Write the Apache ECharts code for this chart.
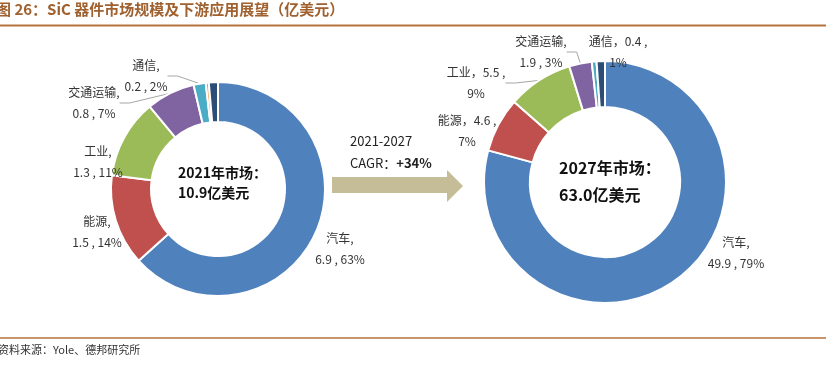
<!DOCTYPE html>
<html><head><meta charset="utf-8">
<script src="https://cdn.jsdelivr.net/npm/echarts/dist/echarts.min.js"></script>
<style>html,body{margin:0;padding:0;background:#fff}#c{width:826px;height:369px}</style>
</head><body><div id="c"></div>
<script>
// ---- data ----
const segments = ['汽车', '能源', '工业', '交通运输', '通信', '其他1', '其他2'];
const values2021 = [6.9, 1.5, 1.3, 0.8, 0.2, 0.05, 0.15];
const share2021 = ['63%', '14%', '11%', '7%', '2%', '', ''];
const values2027 = [49.9, 4.6, 5.5, 1.9, 0.4, 0, 0.7];
const share2027 = ['79%', '7%', '9%', '3%', '1%', '', ''];
const total2021 = '10.9';
const total2027 = '63.0';
const cagrPeriod = '2021-2027';
const cagrValue = '+34%';
const titleText = '图 26：SiC 器件市场规模及下游应用展望（亿美元）';
const sourceText = '资料来源：Yole、德邦研究所';

// ---- styles / layout ----
const colors = ['#4F81BD', '#C0504D', '#9BBB59', '#8064A2', '#4BACC6', '#F79646', '#2C4D75'];
const FONT = '"Noto Sans CJK SC", "Noto Sans", sans-serif';
const labelPos2021 = [[340, 249], [97, 232], [98, 162], [94, 103], [146, 76]];
const labelPos2027 = [[736, 253], [467, 131], [476, 83], [541, 52], [618, 52]];
const lines2021 = [false, false, false, true, true];
const lines2027 = [false, false, true, true, false];
// label line-break style for 2027: true => "name，value ,\nshare"
const inline2027 = [false, true, true, false, true];

function buildData(values, shares, lines, fmtInline) {
  return segments.map((name, i) => {
    const hasLabel = i < 5;
    let text = '';
    if (hasLabel) {
      text = (fmtInline && fmtInline[i])
        ? name + '，' + values[i] + ' ,\n' + shares[i]
        : name + ',\n' + values[i] + ' , ' + shares[i];
    }
    return {
      name: name,
      value: values[i],
      itemStyle: { color: colors[i] },
      label: { show: hasLabel, formatter: text },
      labelLine: { show: hasLabel && lines[i] }
    };
  });
}

function pieSeries(center, radius, data, pos) {
  return {
    type: 'pie',
    center: center,
    radius: radius,
    startAngle: 90,
    clockwise: true,
    avoidLabelOverlap: false,
    silent: true,
    animation: false,
    itemStyle: { borderColor: '#fff', borderWidth: 2 },
    label: {
      position: 'outside',
      fontFamily: FONT, fontSize: 12, color: '#333', lineHeight: 21, align: 'center'
    },
    labelLine: { lineStyle: { color: '#A6A6A6', width: 1 }, length: 10, length2: 10 },
    labelLayout: function (p) {
      const q = pos[p.dataIndex];
      if (!q) return {};
      return { x: q[0], y: q[1], align: 'center', verticalAlign: 'middle' };
    },
    data: data
  };
}

const chart = echarts.init(document.getElementById('c'), null, { renderer: 'canvas' });
chart.setOption({
  animation: false,
  backgroundColor: '#fff',
  series: [
    pieSeries([218, 189], [67, 107], buildData(values2021, share2021, lines2021, null), labelPos2021),
    pieSeries([605, 182], [75, 121], buildData(values2027, share2027, lines2027, inline2027), labelPos2027)
  ],
  graphic: [
    { type: 'text', left: -4, top: 2, style: { text: titleText, font: 'bold 15px ' + FONT, fill: '#A0612F' } },
    { type: 'line', shape: { x1: 0, y1: 25.5, x2: 826, y2: 25.5 }, style: { stroke: '#B5733E', lineWidth: 2 } },
    { type: 'line', shape: { x1: 0, y1: 338, x2: 826, y2: 338 }, style: { stroke: '#B5733E', lineWidth: 1.5 } },
    { type: 'text', left: -2, top: 344, style: { text: sourceText, font: '11px ' + FONT, fill: '#333' } },
    { type: 'polygon', shape: { points: [[332, 177], [447, 177], [447, 170], [463, 186], [447, 202], [447, 193], [332, 193]] }, style: { fill: '#C4BD97' } },
    { type: 'text', x: 350, y: 141, style: { text: cagrPeriod, font: '13px ' + FONT, fill: '#222', verticalAlign: 'middle' } },
    { type: 'text', x: 350, y: 163, style: { text: '{n|CAGR：}{b|' + cagrValue + '}', verticalAlign: 'middle',
        rich: { n: { font: '13px ' + FONT, fill: '#222' }, b: { font: 'bold 13px ' + FONT, fill: '#222' } } } },
    { type: 'text', x: 178, y: 183, style: { text: '2021年市场：\n' + total2021 + '亿美元', font: 'bold 14px ' + FONT, fill: '#111', lineHeight: 20, verticalAlign: 'middle' } },
    { type: 'text', x: 559, y: 181, style: { text: '2027年市场：\n' + total2027 + '亿美元', font: 'bold 16px ' + FONT, fill: '#111', lineHeight: 27, verticalAlign: 'middle' } }
  ]
});
</script>
</body></html>
